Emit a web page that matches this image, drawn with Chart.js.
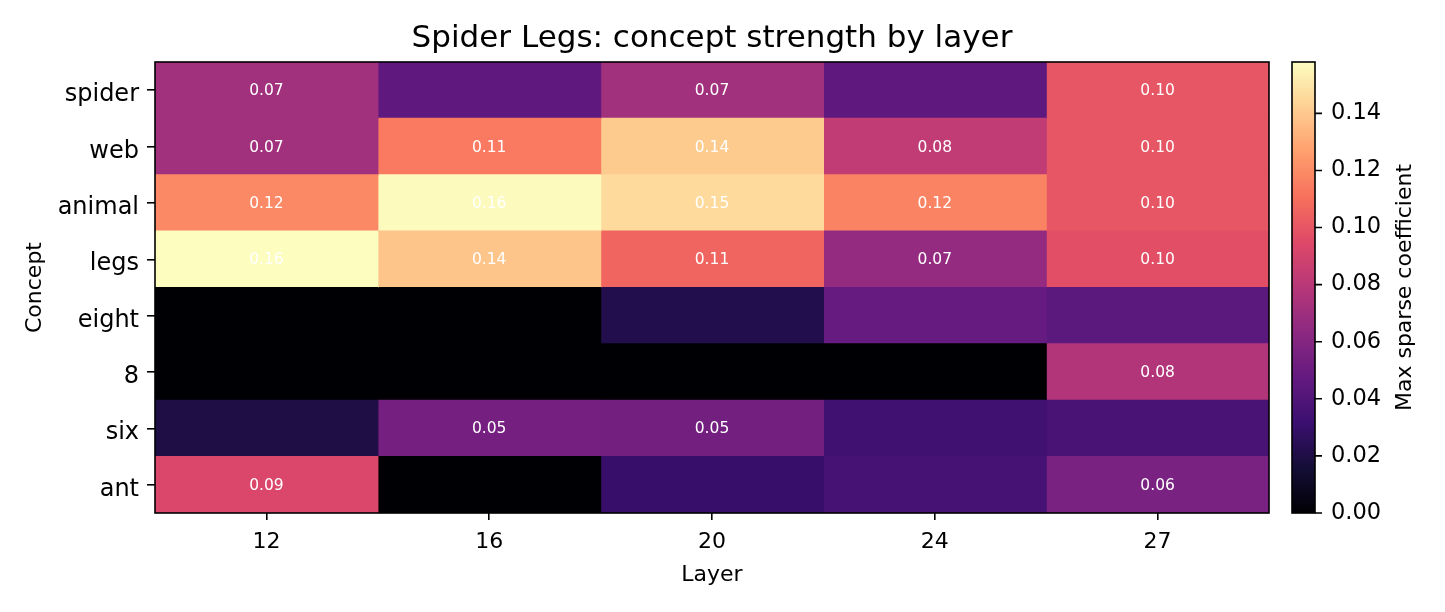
<!DOCTYPE html>
<html><head><meta charset="utf-8">
<script src="https://cdn.jsdelivr.net/npm/chart.js@4.4.1/dist/chart.umd.min.js"></script>
<style>html,body{margin:0;padding:0;background:#fff;} canvas{display:block;}</style>
</head><body>
<canvas id="c" width="1445" height="612"></canvas>
<script>
const layers = ['12', '16', '20', '24', '27'];
const concepts = ['spider', 'web', 'animal', 'legs', 'eight', '8', 'six', 'ant'];
// values per layer column, in the order of `concepts`
const layer12 = [0.071, 0.071, 0.119, 0.158, 0.000, 0.000, 0.020, 0.093];
const layer16 = [0.045, 0.114, 0.157, 0.139, 0.000, 0.000, 0.054, 0.000];
const layer20 = [0.071, 0.141, 0.146, 0.106, 0.022, 0.000, 0.053, 0.030];
const layer24 = [0.045, 0.083, 0.117, 0.066, 0.048, 0.000, 0.034, 0.036];
const layer27 = [0.100, 0.100, 0.100, 0.097, 0.044, 0.077, 0.037, 0.056];
const colorbarTicks = [0, 0.02, 0.04, 0.06, 0.08, 0.10, 0.12, 0.14];
const vmax = 0.158;
const labelThreshold = 0.05;

const columns = [layer12, layer16, layer20, layer24, layer27];

const magmaStops = ['#000004', '#140e36', '#3b0f70', '#641a80', '#8c2981', '#b73779',
  '#de4968', '#f7705c', '#fe9f6d', '#fecf92', '#fcfdbf'];
function hexToRgb(h) { return [1, 3, 5].map(i => parseInt(h.substr(i, 2), 16)); }
const magmaRgb = magmaStops.map(hexToRgb);
function magma(t) {
  t = Math.max(0, Math.min(1, t));
  const s = t * (magmaRgb.length - 1);
  const i = Math.min(Math.floor(s), magmaRgb.length - 2);
  const f = s - i;
  const a = magmaRgb[i], b = magmaRgb[i + 1];
  const c = a.map((v, k) => Math.round(v + (b[k] - v) * f));
  return `rgb(${c[0]},${c[1]},${c[2]})`;
}

const FONT = 'DejaVu Sans';
const L = { left: 155, right: 1269, top: 62, bottom: 513 };
const W = 1445, H = 612;

const datasets = columns.map((vals, j) => ({
  label: layers[j],
  data: vals.map(() => 1),
  values: vals,
  backgroundColor: vals.map(v => magma(v / vmax)),
  borderWidth: 0,
  inflateAmount: 0.6,
  barPercentage: 1,
  categoryPercentage: 1
}));

const heatPlugin = {
  id: 'heat',
  beforeDraw(chart) {
    const ctx = chart.ctx;
    ctx.save();
    ctx.fillStyle = '#fff';
    ctx.fillRect(0, 0, chart.width, chart.height);
    ctx.restore();
  },
  afterDatasetsDraw(chart) {
    const ctx = chart.ctx;
    const xs = chart.scales.x, ys = chart.scales.y;
    ctx.save();
    ctx.fillStyle = '#ffffff';
    ctx.font = `15.5px "${FONT}"`;
    ctx.textAlign = 'center';
    ctx.textBaseline = 'middle';
    columns.forEach((vals, j) => {
      vals.forEach((v, i) => {
        if (v >= labelThreshold) {
          ctx.fillText(v.toFixed(2), xs.getPixelForValue(j + 0.5), ys.getPixelForValue(i) + 1);
        }
      });
    });
    ctx.restore();
  },
  afterDraw(chart) {
    const ctx = chart.ctx;
    const ca = chart.chartArea;
    const cb = chart.scales.cb;
    const ys = chart.scales.y;
    ctx.save();
    ctx.strokeStyle = '#000';
    ctx.lineWidth = 1.6;
    ctx.strokeRect(ca.left, ca.top, ca.right - ca.left, ca.bottom - ca.top);
    // colorbar
    const x0 = ca.right + 23, x1 = ca.right + 46;
    for (let y = Math.floor(cb.top); y < cb.bottom; y++) {
      const v = cb.getValueForPixel(y + 0.5);
      ctx.fillStyle = magma(v / vmax);
      ctx.fillRect(x0, y, x1 - x0, 1);
    }
    ctx.strokeRect(x0, cb.top, x1 - x0, cb.bottom - cb.top);
    ctx.beginPath();
    colorbarTicks.forEach(t => {
      const y = cb.getPixelForValue(t);
      ctx.moveTo(x1, y);
      ctx.lineTo(x1 + 7, y);
    });
    ctx.stroke();
    // y tick labels (baseline-aligned like the reference)
    ctx.fillStyle = '#000';
    ctx.font = `24px "${FONT}"`;
    ctx.textAlign = 'right';
    ctx.textBaseline = 'alphabetic';
    concepts.forEach((c, i) => {
      ctx.fillText(c, ca.left - 16, ys.getPixelForValue(i) + 11);
    });
    // texts
    ctx.textAlign = 'center';
    ctx.font = `31px "${FONT}"`;
    ctx.fillText('Spider Legs: concept strength by layer', (ca.left + ca.right) / 2, 47);
    ctx.font = `22px "${FONT}"`;
    ctx.fillText('Layer', (ca.left + ca.right) / 2, 581);
    ctx.save();
    ctx.translate(41, (ca.top + ca.bottom) / 2);
    ctx.rotate(-Math.PI / 2);
    ctx.fillText('Concept', 0, 0);
    ctx.restore();
    ctx.save();
    ctx.translate(1411, (ca.top + ca.bottom) / 2);
    ctx.rotate(-Math.PI / 2);
    ctx.fillText('Max sparse coefficient', 0, 0);
    ctx.restore();
    ctx.restore();
  }
};

new Chart(document.getElementById('c'), {
  type: 'bar',
  data: { labels: concepts, datasets },
  options: {
    indexAxis: 'y',
    responsive: false,
    animation: false,
    devicePixelRatio: 1,
    layout: { padding: { left: 0, right: 0, top: L.top, bottom: 0 } },
    plugins: { legend: { display: false }, tooltip: { enabled: false }, title: { display: false } },
    scales: {
      x: {
        type: 'linear', stacked: true, min: 0, max: layers.length,
        afterBuildTicks: s => { s.ticks = layers.map((l, i) => ({ value: i + 0.5 })); },
        afterFit: s => { s.height = H - L.bottom; },
        ticks: { callback: (v, i) => layers[i], font: { family: FONT, size: 22 }, color: '#000', padding: 9, maxRotation: 0, autoSkip: false },
        grid: { drawOnChartArea: false, drawTicks: true, tickLength: 7, color: '#000', lineWidth: 1.6 },
        border: { display: false }
      },
      y: {
        type: 'category', stacked: true, offset: true,
        afterFit: s => { s.width = L.left; },
        ticks: { font: { family: FONT, size: 24 }, color: 'rgba(0,0,0,0)', padding: 8, autoSkip: false },
        grid: { offset: false, drawOnChartArea: false, drawTicks: true, tickLength: 8, color: '#000', lineWidth: 1.6 },
        border: { display: false }
      },
      cb: {
        type: 'linear', position: 'right', min: 0, max: vmax, axis: 'y', offset: false,
        afterBuildTicks: s => { s.ticks = colorbarTicks.map(v => ({ value: v })); },
        afterFit: s => { s.width = W - L.right; },
        ticks: { callback: v => v.toFixed(2), font: { family: FONT, size: 22.5 }, color: '#000', padding: 9, autoSkip: false },
        grid: { offset: false, drawOnChartArea: false, drawTicks: true, tickLength: 53, color: 'rgba(0,0,0,0)' },
        border: { display: false }
      }
    }
  },
  plugins: [heatPlugin]
});
</script>
</body></html>
